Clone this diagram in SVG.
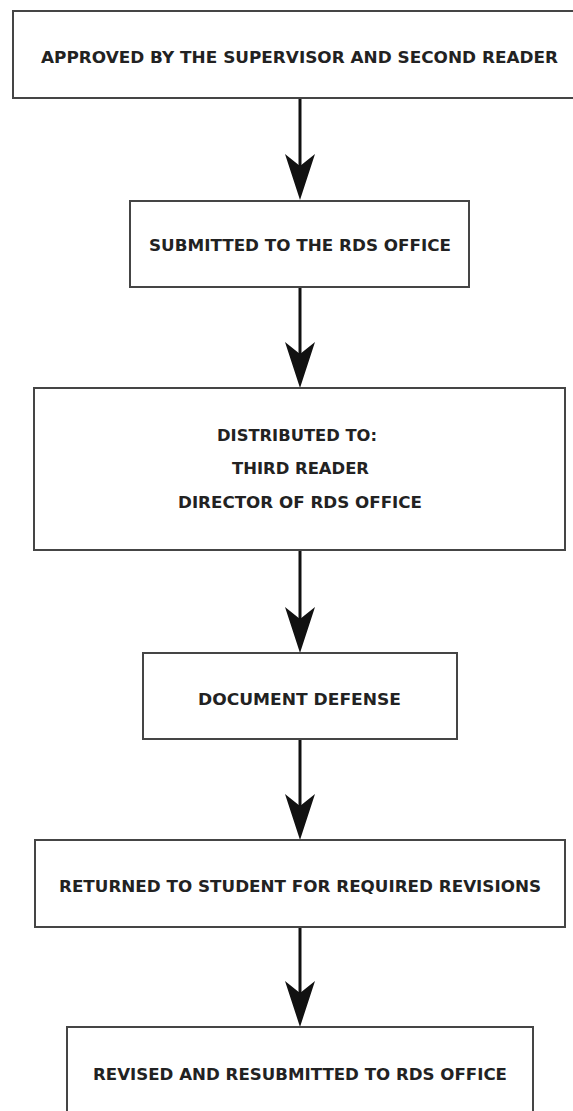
<svg xmlns="http://www.w3.org/2000/svg" width="573" height="1111" viewBox="0 0 573 1111">
<defs>
<style>
.box{fill:#ffffff;stroke:#454545;stroke-width:2}
.lbl{font-family:"DejaVu Sans","Liberation Sans",sans-serif;font-weight:bold;font-size:15.5px;fill:#222222}
.conn{stroke:#111111;stroke-width:3;fill:none}
</style>
<marker id="ah" markerUnits="userSpaceOnUse" markerWidth="46" markerHeight="30" viewBox="0 0 46 30" refX="16" refY="15" orient="auto">
<path d="M46,15 L0,0 L12,15 L0,30 Z" fill="#111111"/>
</marker>
</defs>
<rect width="573" height="1111" fill="#ffffff"/>
<g id="connectors">
<line class="conn" x1="300" y1="98" x2="300" y2="170" marker-end="url(#ah)"/>
<line class="conn" x1="300" y1="287" x2="300" y2="358" marker-end="url(#ah)"/>
<line class="conn" x1="300" y1="550" x2="300" y2="623" marker-end="url(#ah)"/>
<line class="conn" x1="300" y1="739" x2="300" y2="810" marker-end="url(#ah)"/>
<line class="conn" x1="300" y1="927" x2="300" y2="997" marker-end="url(#ah)"/>
</g>
<g id="n1">
<rect class="box" x="13" y="11" width="600" height="87"/>
<text class="lbl" x="41" y="63" textLength="517" lengthAdjust="spacingAndGlyphs">APPROVED BY THE SUPERVISOR AND SECOND READER</text>
</g>
<g id="n2">
<rect class="box" x="130" y="201" width="339" height="86"/>
<text class="lbl" x="149" y="251" textLength="302" lengthAdjust="spacingAndGlyphs">SUBMITTED TO THE RDS OFFICE</text>
</g>
<g id="n3">
<rect class="box" x="34" y="388" width="531" height="162"/>
<text class="lbl" x="217" y="441" textLength="160" lengthAdjust="spacingAndGlyphs">DISTRIBUTED TO:</text>
<text class="lbl" x="232" y="474" textLength="137" lengthAdjust="spacingAndGlyphs">THIRD READER</text>
<text class="lbl" x="178" y="508" textLength="244" lengthAdjust="spacingAndGlyphs">DIRECTOR OF RDS OFFICE</text>
</g>
<g id="n4">
<rect class="box" x="143" y="653" width="314" height="86"/>
<text class="lbl" x="198" y="705" textLength="203" lengthAdjust="spacingAndGlyphs">DOCUMENT DEFENSE</text>
</g>
<g id="n5">
<rect class="box" x="35" y="840" width="530" height="87"/>
<text class="lbl" x="59" y="892" textLength="482" lengthAdjust="spacingAndGlyphs">RETURNED TO STUDENT FOR REQUIRED REVISIONS</text>
</g>
<g id="n6">
<rect class="box" x="67" y="1027" width="466" height="110"/>
<text class="lbl" x="93" y="1080" textLength="414" lengthAdjust="spacingAndGlyphs">REVISED AND RESUBMITTED TO RDS OFFICE</text>
</g>
</svg>
